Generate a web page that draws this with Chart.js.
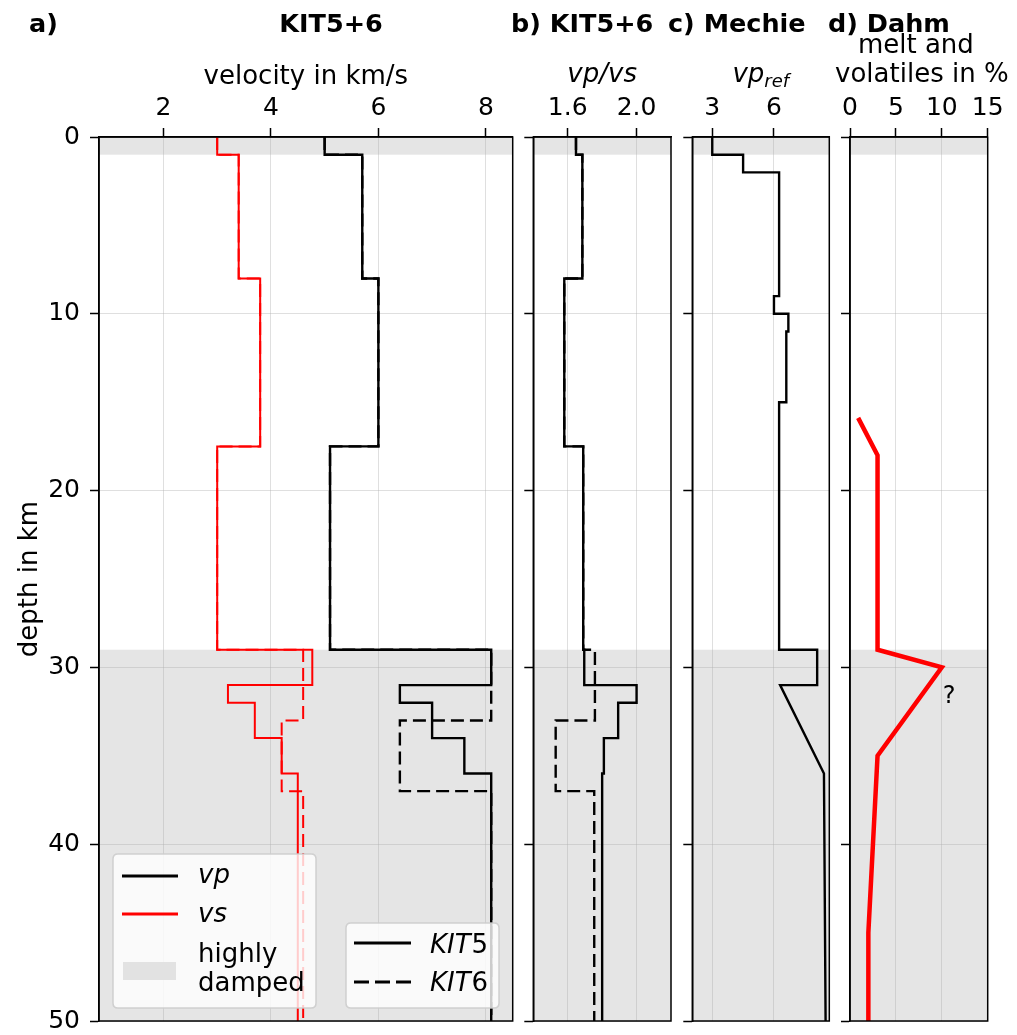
<!DOCTYPE html>
<html><head><meta charset="utf-8">
<script src="https://cdn.jsdelivr.net/npm/chart.js@4.4.1/dist/chart.umd.min.js"></script>
<style>
body{margin:0;background:#fff;}
#wrap{position:relative;width:1017px;height:1035px;background:#fff;}
canvas{position:absolute;left:0;top:0;}
</style>
</head><body>
<div id="wrap">
<canvas id="pa" width="1017" height="1035"></canvas>
<canvas id="pb" width="1017" height="1035"></canvas>
<canvas id="pc" width="1017" height="1035"></canvas>
<canvas id="pd" width="1017" height="1035"></canvas>
</div>
<script>
// ---------- data ----------
const depthTicks = [0, 10, 20, 30, 40, 50];
const dampedZones = [[0, 1], [29, 50]];

// KIT5 layer model: layer boundaries (km) and layer values
const kit5Bounds = [0, 1, 8, 17.5, 29, 31, 32, 34, 36, 50];
const kit5Vp     = [5.0, 5.7, 6.0, 5.1, 8.1, 6.4, 7.0, 7.6, 8.1];
const kit5Vs     = [3.0, 3.4, 3.8, 3.0, 4.77, 3.2, 3.7, 4.2, 4.5];
const kit5VpVs   = [1.648, 1.685, 1.58, 1.69, 1.696, 2.0, 1.893, 1.81, 1.80];

// KIT6 layer model
const kit6Bounds = [0, 1, 8, 17.5, 29, 33, 37, 50];
const kit6Vp     = [5.0, 5.7, 6.0, 5.1, 8.1, 6.4, 8.1];
const kit6Vs     = [3.0, 3.4, 3.8, 3.0, 4.6, 4.2, 4.6];
const kit6VpVs   = [1.648, 1.685, 1.58, 1.69, 1.758, 1.53, 1.754];

// Mechie reference vp profile (depth, vp)
const mechieDepth = [0, 1, 1, 2, 2, 9, 9, 10, 10, 11, 11, 15, 15, 29, 29, 31, 31, 36, 50];
const mechieVp    = [3.0, 3.0, 4.5, 4.5, 6.25, 6.25, 6.0, 6.0, 6.7, 6.7, 6.6, 6.6, 6.25, 6.25, 8.1, 8.1, 6.3, 8.43, 8.51];

// Dahm melt and volatiles (depth, %)
const dahmDepth = [16, 18, 29, 30, 35, 45, 50];
const dahmMelt  = [1, 3, 3, 10, 3, 2, 2];

const velTicks   = [2, 4, 6, 8];
const ratioTicks = [1.6, 2.0];
const vpRefTicks = [3, 6];
const meltTicks  = [0, 5, 10, 15];

// ---------- helpers ----------
const FONT = 'DejaVu Sans';
Chart.defaults.font.family = FONT;
Chart.defaults.color = '#000';
const GRID = 'rgba(176,176,176,0.4)';
const DASH = [13, 6];
const LW = 2.4;

function steps(bounds, vals) {
  const pts = [];
  vals.forEach((v, i) => { pts.push({x: v, y: bounds[i]}); pts.push({x: v, y: bounds[i + 1]}); });
  return pts;
}
function pairs(depths, vals) { return depths.map((d, i) => ({x: vals[i], y: d})); }
function line(data, color, width, dash) {
  return {data, showLine: true, borderColor: color, backgroundColor: color, borderWidth: width,
          borderDash: dash || [], pointRadius: 0, tension: 0, borderJoinStyle: 'miter', borderCapStyle: 'butt'};
}

const shadePlugin = {
  id: 'shade',
  beforeDraw(chart) {
    const {ctx, chartArea: a, scales: {y}} = chart;
    ctx.save();
    ctx.fillStyle = '#e5e5e5';
    dampedZones.forEach(([d0, d1]) => {
      const y0 = y.getPixelForValue(d0), y1 = y.getPixelForValue(d1);
      ctx.fillRect(a.left, y0, a.right - a.left, y1 - y0);
    });
    ctx.restore();
  }
};
const framePlugin = {
  id: 'frame',
  afterDatasetsDraw(chart) {
    const {ctx, chartArea: a} = chart;
    ctx.save();
    ctx.strokeStyle = '#000'; ctx.lineWidth = 1.5;
    ctx.strokeRect(a.left, a.top, a.right - a.left, a.bottom - a.top);
    ctx.restore();
  }
};

function txt(ctx, s, x, y, font, align) {
  ctx.font = font; ctx.textAlign = align || 'left'; ctx.textBaseline = 'alphabetic';
  ctx.fillText(s, x, y);
}

function roundRect(ctx, x, y, w, h, r) {
  ctx.beginPath();
  ctx.moveTo(x + r, y); ctx.lineTo(x + w - r, y); ctx.quadraticCurveTo(x + w, y, x + w, y + r);
  ctx.lineTo(x + w, y + h - r); ctx.quadraticCurveTo(x + w, y + h, x + w - r, y + h);
  ctx.lineTo(x + r, y + h); ctx.quadraticCurveTo(x, y + h, x, y + h - r);
  ctx.lineTo(x, y + r); ctx.quadraticCurveTo(x, y, x + r, y); ctx.closePath();
}
function legendBox(ctx, x, y, w, h) {
  ctx.save();
  roundRect(ctx, x, y, w, h, 5);
  ctx.fillStyle = 'rgba(255,255,255,0.8)'; ctx.fill();
  ctx.strokeStyle = 'rgba(204,204,204,0.9)'; ctx.lineWidth = 1.5; ctx.stroke();
  ctx.restore();
}
function legendLine(ctx, x0, x1, y, color, dash) {
  ctx.save();
  ctx.strokeStyle = color; ctx.lineWidth = 2.8; ctx.setLineDash(dash || []);
  ctx.beginPath(); ctx.moveTo(x0, y); ctx.lineTo(x1, y); ctx.stroke();
  ctx.restore();
}

// figure-level texts and legends (drawn by panel a)
const panelAExtras = {
  id: 'aExtras',
  afterDraw(chart) {
    const ctx = chart.ctx;
    ctx.save();
    ctx.fillStyle = '#000';
    const B = 'bold 25.5px ' + FONT;
    txt(ctx, 'a)', 29, 32, B);
    txt(ctx, 'KIT5+6', 331, 32, B, 'center');
    txt(ctx, 'b) KIT5+6', 511, 32, B);
    txt(ctx, 'c) Mechie', 668, 32, B);
    txt(ctx, 'd) Dahm', 828, 32, B);
    const a = chart.chartArea;
    txt(ctx, 'velocity in km/s', (a.left + a.right) / 2, 84, '26px ' + FONT, 'center');
    ctx.save();
    ctx.translate(37, (a.top + a.bottom) / 2);
    ctx.rotate(-Math.PI / 2);
    txt(ctx, 'depth in km', 0, 0, '26px ' + FONT, 'center');
    ctx.restore();

    // legend 1
    legendBox(ctx, 113, 854, 203, 154);
    legendLine(ctx, 122, 178, 876, '#000');
    legendLine(ctx, 122, 178, 914, '#ff0000');
    ctx.fillStyle = '#e2e2e2';
    ctx.fillRect(123, 962, 53, 18);
    ctx.fillStyle = '#000';
    txt(ctx, 'vp', 198, 883, 'italic 26px ' + FONT);
    txt(ctx, 'vs', 198, 922, 'italic 26px ' + FONT);
    txt(ctx, 'highly', 198, 962, '26px ' + FONT);
    txt(ctx, 'damped', 198, 991, '26px ' + FONT);

    // legend 2
    legendBox(ctx, 346, 923, 153, 85);
    legendLine(ctx, 354, 411, 943, '#000');
    legendLine(ctx, 354, 411, 982, '#000', [15, 6]);
    ctx.fillStyle = '#000';
    ctx.font = 'italic 26px ' + FONT;
    const w = ctx.measureText('KIT').width;
    txt(ctx, 'KIT', 430, 953, 'italic 26px ' + FONT);
    txt(ctx, '5', 430 + w + 1, 953, '26px ' + FONT);
    txt(ctx, 'KIT', 430, 991, 'italic 26px ' + FONT);
    txt(ctx, '6', 430 + w + 1, 991, '26px ' + FONT);
    ctx.restore();
  }
};
const panelBExtras = {
  id: 'bExtras',
  afterDraw(chart) {
    const a = chart.chartArea, ctx = chart.ctx;
    ctx.save(); ctx.fillStyle = '#000';
    txt(ctx, 'vp/vs', (a.left + a.right) / 2, 82, 'italic 26px ' + FONT, 'center');
    ctx.restore();
  }
};
const panelCExtras = {
  id: 'cExtras',
  afterDraw(chart) {
    const a = chart.chartArea, ctx = chart.ctx;
    ctx.save(); ctx.fillStyle = '#000';
    ctx.font = 'italic 26px ' + FONT; const w1 = ctx.measureText('vp').width;
    ctx.font = 'italic 18px ' + FONT; const w2 = ctx.measureText('ref').width;
    const x0 = (a.left + a.right) / 2 - (w1 + w2) / 2;
    txt(ctx, 'vp', x0, 82, 'italic 26px ' + FONT);
    txt(ctx, 'ref', x0 + w1, 87, 'italic 18px ' + FONT);
    ctx.restore();
  }
};
const panelDExtras = {
  id: 'dExtras',
  afterDraw(chart) {
    const a = chart.chartArea, ctx = chart.ctx;
    ctx.save(); ctx.fillStyle = '#000';
    const cx = (a.left + a.right) / 2;
    txt(ctx, 'melt and', cx - 3, 53, '26px ' + FONT, 'center');
    txt(ctx, 'volatiles in %', cx + 3, 82, '26px ' + FONT, 'center');
    const {x, y} = chart.scales;
    txt(ctx, '?', x.getPixelForValue(10.8), y.getPixelForValue(32.0), '24px ' + FONT, 'center');
    ctx.restore();
  }
};

function makePanel(p) {
  const yW = p.yLabels ? 99 : 20;
  const xH = 60;
  return new Chart(document.getElementById(p.id), {
    type: 'scatter',
    data: {datasets: p.datasets},
    options: {
      responsive: false, animation: false, devicePixelRatio: 1, events: [],
      layout: {padding: {left: p.L - yW, right: 1017 - p.R, top: 137 - xH, bottom: 1035 - 1021}},
      plugins: {legend: {display: false}, tooltip: {enabled: false}},
      scales: {
        x: {
          type: 'linear', position: 'top', min: p.xmin, max: p.xmax,
          afterBuildTicks: s => { s.ticks = p.xticks.map(v => ({value: v})); },
          afterFit: s => { s.height = xH; s.paddingLeft = 0; s.paddingRight = 0; },
          ticks: {color: '#000', font: {size: 25}, padding: 5, maxRotation: 0, autoSkip: false,
                  callback: v => p.fmt(v)},
          grid: {color: GRID, lineWidth: 1, tickColor: '#000', tickLength: 9, tickWidth: 1.5},
          border: {color: '#000', width: 1.5}
        },
        y: {
          type: 'linear', position: 'left', reverse: true, min: 0, max: 50,
          afterBuildTicks: s => { s.ticks = depthTicks.map(v => ({value: v})); },
          afterFit: s => { s.width = yW; s.paddingTop = 0; s.paddingBottom = 0; },
          ticks: {display: p.yLabels, color: '#000', font: {size: 25}, padding: 10, autoSkip: false},
          grid: {color: GRID, lineWidth: 1, tickColor: '#000', tickLength: 9, tickWidth: 1.5},
          border: {color: '#000', width: 1.5}
        }
      }
    },
    plugins: [shadePlugin, framePlugin, p.extra]
  });
}

makePanel({
  id: 'pa', L: 99, R: 512.7, xmin: 0.8, xmax: 8.5, xticks: velTicks, fmt: v => String(v), yLabels: true,
  datasets: [
    line(steps(kit5Bounds, kit5Vp), '#000', LW),
    line(steps(kit5Bounds, kit5Vs), '#ff0000', 2),
    line(steps(kit6Bounds, kit6Vp), '#000', LW, DASH),
    line(steps(kit6Bounds, kit6Vs), '#ff0000', 2, DASH)
  ],
  extra: panelAExtras
});
makePanel({
  id: 'pb', L: 533.3, R: 671, xmin: 1.4, xmax: 2.2, xticks: ratioTicks, fmt: v => v.toFixed(1), yLabels: false,
  datasets: [
    line(steps(kit5Bounds, kit5VpVs), '#000', LW),
    line(steps(kit6Bounds, kit6VpVs), '#000', LW, DASH)
  ],
  extra: panelBExtras
});
makePanel({
  id: 'pc', L: 692.3, R: 829.3, xmin: 2.03, xmax: 8.69, xticks: vpRefTicks, fmt: v => String(v), yLabels: false,
  datasets: [ line(pairs(mechieDepth, mechieVp), '#000', LW) ],
  extra: panelCExtras
});
makePanel({
  id: 'pd', L: 850, R: 987.7, xmin: 0, xmax: 15, xticks: meltTicks, fmt: v => String(v), yLabels: false,
  datasets: [ Object.assign(line(pairs(dahmDepth, dahmMelt), '#ff0000', 4.5), {borderCapStyle: 'square'}) ],
  extra: panelDExtras
});
</script>
</body></html>
